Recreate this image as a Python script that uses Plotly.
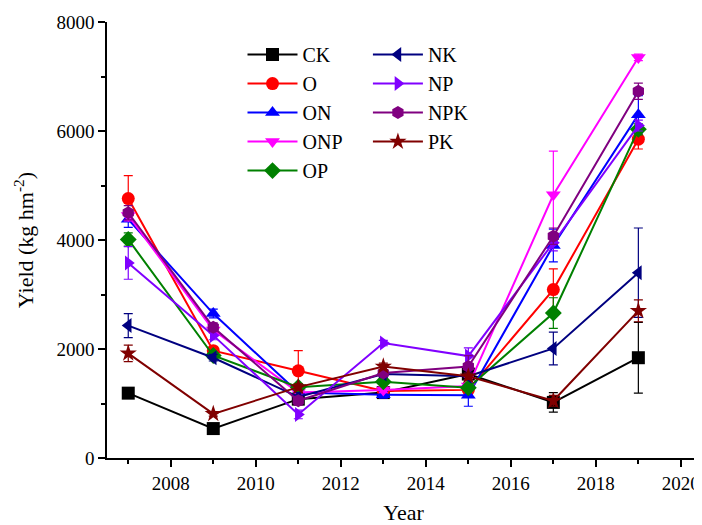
import plotly.graph_objects as go

years = [2007, 2009, 2011, 2013, 2015, 2017, 2019]

CK = [1190, 540, 1080, 1200, 1540, 1020, 1840]
CK_err = [80, 40, 60, 50, 80, 180, 650]
O = [4760, 1970, 1600, 1230, 1250, 3090, 5850]
O_err = [420, 60, 370, 50, 60, 380, 180]
ON = [4380, 2650, 1200, 1160, 1150, 3900, 6300]
ON_err = [150, 80, 60, 60, 200, 300, 350]
ONP = [4450, 2350, 1200, 1250, 1320, 4830, 7350]
ONP_err = [100, 60, 50, 50, 60, 800, 60]
OP = [4010, 1880, 1300, 1400, 1290, 2660, 6030]
OP_err = [120, 60, 60, 50, 60, 280, 100]
NK = [2430, 1840, 1120, 1540, 1500, 2010, 3400]
NK_err = [220, 60, 80, 60, 60, 300, 820]
NP = [3580, 2250, 800, 2110, 1870, 3950, 6100]
NP_err = [300, 80, 80, 50, 150, 150, 100]
NPK = [4500, 2400, 1050, 1560, 1680, 4070, 6730]
NPK_err = [130, 80, 80, 60, 200, 150, 150]
PK = [1920, 810, 1300, 1680, 1500, 1050, 2700]
PK_err = [150, 40, 60, 60, 60, 100, 200]

series = [
    ("CK", CK, CK_err, "#000000", "square", "legend"),
    ("O", O, O_err, "#ff0000", "circle", "legend"),
    ("ON", ON, ON_err, "#0000ff", "triangle-up", "legend"),
    ("ONP", ONP, ONP_err, "#ff00ff", "triangle-down", "legend"),
    ("OP", OP, OP_err, "#008000", "diamond", "legend"),
    ("NK", NK, NK_err, "#000080", "triangle-left", "legend2"),
    ("NP", NP, NP_err, "#8000ff", "triangle-right", "legend2"),
    ("NPK", NPK, NPK_err, "#800080", "hexagon", "legend2"),
    ("PK", PK, PK_err, "#800000", "star", "legend2"),
]

fig = go.Figure()
for name, vals, err, color, sym, leg in series:
    fig.add_trace(go.Scatter(
        x=years, y=vals, name=name, mode="lines+markers",
        line=dict(color=color, width=2),
        marker=dict(symbol=sym, size=13, color=color),
        error_y=dict(type="data", array=err, visible=True, color=color,
                     thickness=1.2, width=4.5),
        legend=leg,
    ))

font = "Liberation Serif, Times New Roman, serif"
fig.update_layout(
    width=694, height=517,
    margin=dict(l=99, r=2, t=14, b=67, autoexpand=False),
    paper_bgcolor="white", plot_bgcolor="white",
    font=dict(family=font, size=19, color="black"),
    legend=dict(x=0.2285, y=0.97, xanchor="left", yanchor="top",
                font=dict(size=20, family=font), bgcolor="rgba(0,0,0,0)",
                tracegroupgap=0, itemwidth=50),
    legend2=dict(x=0.44, y=0.97, xanchor="left", yanchor="top",
                 font=dict(size=20, family=font), bgcolor="rgba(0,0,0,0)",
                 tracegroupgap=0, itemwidth=50),
    xaxis=dict(
        range=[2006.5, 2020.45], tickvals=[2008, 2010, 2012, 2014, 2016, 2018, 2020],
        automargin=False,
        ticks="outside", ticklen=7, tickwidth=1.5, tickcolor="black",
        showline=True, linecolor="black", linewidth=1.5, showgrid=False, zeroline=False,
        minor=dict(tickvals=[2007, 2009, 2011, 2013, 2015, 2017, 2019],
                   ticks="outside", ticklen=4, tickwidth=1.5, tickcolor="black"),
        title=dict(text="Year", font=dict(size=22, family=font), standoff=13),
        tickfont=dict(size=19, family=font),
    ),
    yaxis=dict(
        range=[0, 8000], tickvals=[0, 2000, 4000, 6000, 8000],
        automargin=False,
        ticks="outside", ticklen=7, tickwidth=1.5, tickcolor="black",
        showline=True, linecolor="black", linewidth=1.5, showgrid=False, zeroline=False,
        minor=dict(tickvals=[1000, 3000, 5000, 7000],
                   ticks="outside", ticklen=4, tickwidth=1.5, tickcolor="black"),
        title=dict(text="Yield (kg hm<sup>-2</sup>)", font=dict(size=22, family=font), standoff=17),
        tickfont=dict(size=19, family=font),
    ),
)

fig.write_html("out.html")
